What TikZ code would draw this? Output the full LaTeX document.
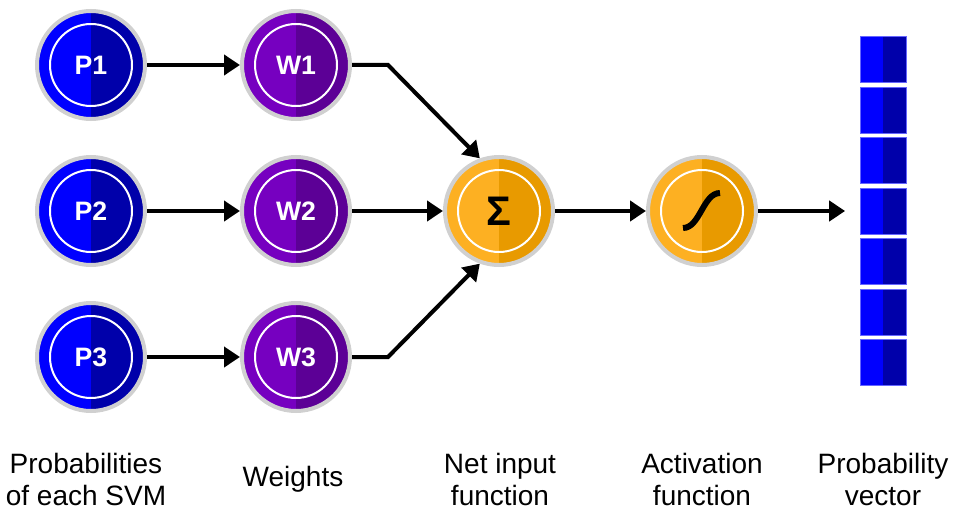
\documentclass[tikz,border=0pt]{standalone}
\usepackage{fontspec}
\setmainfont{Liberation Sans}
\usetikzlibrary{arrows.meta,positioning}

\definecolor{bluL}{RGB}{0,0,255}
\definecolor{bluR}{RGB}{0,0,170}
\definecolor{purL}{RGB}{118,0,192}
\definecolor{purR}{RGB}{92,0,150}
\definecolor{orgL}{RGB}{253,176,34}
\definecolor{orgR}{RGB}{232,154,0}
\definecolor{ring}{RGB}{208,208,208}

\begin{document}
\begin{tikzpicture}
[x=0.75pt,y=-0.75pt,
 ball/.style n args={2}{circle,fill=#1,draw=ring,line width=3pt,minimum size=81pt,inner sep=0pt,
   text=white,font=\bfseries\fontsize{20}{20}\selectfont,
   path picture={\fill[#2] (path picture bounding box.north) rectangle (path picture bounding box.south east);
     \draw[white,line width=1.5pt] (path picture bounding box.center) circle[radius=30.75pt];}},
 pnode/.style={ball={bluL}{bluR}},
 wnode/.style={ball={purL}{purR}},
 onode/.style={ball={orgL}{orgR},text=black},
 cell/.style={rectangle,fill=bluL,draw=blue!60!white,line width=0.3pt,minimum size=34.5pt,inner sep=0pt,
   path picture={\fill[bluR] (path picture bounding box.north) rectangle (path picture bounding box.south east);}},
 lab/.style={align=center,font=\fontsize{21}{24}\selectfont},
 arr/.style={-{Triangle[length=12pt,width=15pt]},line width=3pt}]
\useasboundingbox (0,0) rectangle (955,510);
% inputs and weights
\node[pnode] (p1) at (91,65) {P1};
\node[pnode] (p2) at (91,211) {P2};
\node[pnode] (p3) at (91,357) {P3};
\node[wnode] (w1) at (296,65) {W1};
\node[wnode] (w2) at (296,211) {W2};
\node[wnode] (w3) at (296,357) {W3};
% sum and activation
\node[onode,font=\bfseries\fontsize{31}{31}\selectfont] (sum) at (499,211) {Σ};
\node[onode] (act) at (702,211) {};
\draw[line width=4.5pt] ([shift={(-19,17)}]act.center) .. controls ([shift={(-2,17)}]act.center) and ([shift={(1,-18)}]act.center) .. ([shift={(18,-18)}]act.center);
% output vector
\foreach \i in {1,...,7}
  \node[cell] (v\i) at (883,{59.5+(\i-1)*50.5}) {};
\coordinate (k1) at (388,65);
\coordinate (k3) at (388,357);
\draw[arr] (p1) -- (w1);
\draw[arr] (p2) -- (w2);
\draw[arr] (p3) -- (w3);
\draw[arr] (w1) -- (k1) -- (sum.110);
\draw[arr] (w2) -- (sum);
\draw[arr] (w3) -- (k3) -- (sum.250);
\draw[arr] (sum) -- (act);
\draw[arr,shorten >=11pt] (act) -- (v4);
% captions
\node[lab] (l1) at (86,479) {Probabilities\\of each SVM};
\node[lab] (l2) at (293,479) {Weights};
\node[lab] (l3) at (500,479) {Net input\\function};
\node[lab] (l4) at (702,479) {Activation\\function};
\node[lab] (l5) at (883,479) {Probability\\vector};
\end{tikzpicture}
\end{document}
